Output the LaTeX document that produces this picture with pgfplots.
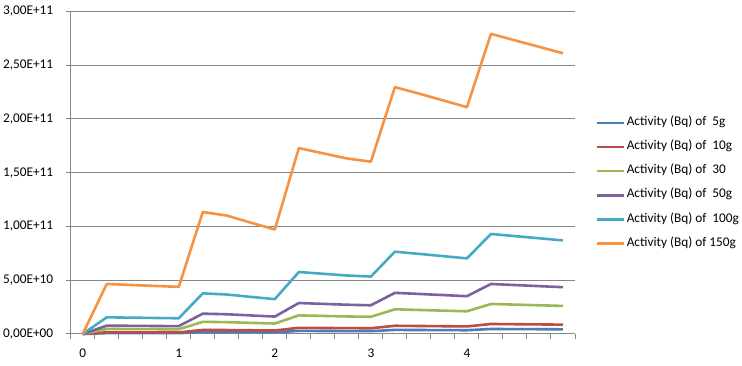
\documentclass[border=0pt]{standalone}
\usepackage{fontspec}
\setmainfont{Carlito}
\usepackage{pgfplots}
\pgfplotsset{compat=1.18}
\usepackage{pgfplotstable}
\definecolor{c5}{HTML}{4A7EBB}
\definecolor{c10}{HTML}{BE4B48}
\definecolor{c30}{HTML}{98B954}
\definecolor{c50}{HTML}{7D60A0}
\definecolor{c100}{HTML}{46AAC5}
\definecolor{c150}{HTML}{F69240}
\definecolor{axgray}{HTML}{868686}

\pgfplotstableread{
x  a5      a10     a30      a50      a100    a150
0  0       0       0        0        0       0
1  0.80e9  1.55e9  4.65e9   7.75e9   15.5e9  46.5e9
2  0.80e9  1.52e9  4.56e9   7.60e9   15.2e9  45.6e9
3  0.75e9  1.49e9  4.47e9   7.45e9   14.9e9  44.7e9
4  0.75e9  1.46e9  4.38e9   7.30e9   14.6e9  43.8e9
5  1.90e9  3.78e9  11.3e9   18.9e9   37.8e9  113.4e9
6  1.85e9  3.67e9  11.0e9   18.35e9  36.7e9  110.1e9
7  1.75e9  3.45e9  10.35e9  17.25e9  34.5e9  103.5e9
8  1.60e9  3.24e9  9.72e9   16.2e9   32.4e9  97.2e9
9  2.90e9  5.76e9  17.3e9   28.8e9   57.6e9  172.8e9
10 2.80e9  5.60e9  16.8e9   28.0e9   56.0e9  168.0e9
11 2.70e9  5.44e9  16.3e9   27.2e9   54.4e9  163.2e9
12 2.65e9  5.34e9  16.0e9   26.7e9   53.4e9  160.2e9
13 3.80e9  7.65e9  22.95e9  38.25e9  76.5e9  229.5e9
14 3.70e9  7.45e9  22.35e9  37.25e9  74.5e9  223.5e9
15 3.60e9  7.24e9  21.7e9   36.2e9   72.4e9  217.2e9
16 3.50e9  7.03e9  21.1e9   35.15e9  70.3e9  210.9e9
17 4.65e9  9.30e9  27.9e9   46.5e9   93.0e9  279.0e9
18 4.55e9  9.10e9  27.3e9   45.5e9   91.0e9  273.0e9
19 4.45e9  8.90e9  26.7e9   44.5e9   89.0e9  267.0e9
20 4.35e9  8.70e9  26.1e9   43.5e9   87.0e9  261.0e9
}\data

\begin{document}
\begin{tikzpicture}[x=1pt,y=1pt]
\path[use as bounding box] (-70.7,-32) rectangle (671.3,334);
\begin{axis}[
  at={(0,0)}, anchor=south west, scale only axis,
  width=504.3pt, height=322.7pt,
  xmin=-0.5, xmax=20.5, ymin=0, ymax=3e11,
  axis x line*=bottom, axis y line*=left,
  axis line style={axgray, line width=1pt, -},
  xtick={-0.5,0.5,...,20.5}, xticklabels={},
  extra x ticks={0,4,8,12,16}, extra x tick labels={0,1,2,3,4},
  extra x tick style={major tick length=0pt, grid=none,
    xticklabel style={yshift=-11pt}},
  ytick={0,5e10,1e11,1.5e11,2e11,2.5e11,3e11},
  yticklabels={{0,00E+00},{5,00E+10},{1,00E+11},{1,50E+11},{2,00E+11},{2,50E+11},{3,00E+11}},
  yticklabel style={xshift=-9pt},
  scaled y ticks=false,
  ymajorgrids, grid style={axgray, line width=1pt},
  tick align=outside, major tick length=5pt,
  tick style={axgray, line width=1pt},
  font=\fontsize{13.3}{16}\selectfont,
  clip=false,
  legend cell align=left,
  legend image code/.code={\draw[#1, line width=2.6pt] (0pt,0pt) -- (27pt,0pt);},
  legend style={draw=none, fill=none, at={(1.0416,0.671)}, anchor=north west,
    inner sep=0pt, row sep=13.6pt,
    nodes={inner xsep=1pt, inner ysep=0pt, text height=8pt, text depth=2.5pt},
    font=\fontsize{13.3}{16}\selectfont},
]
\addplot[c5, line width=2.6pt, line join=round]   table[x=x,y=a5]{\data};
\addplot[c10, line width=2.6pt, line join=round]  table[x=x,y=a10]{\data};
\addplot[c30, line width=2.6pt, line join=round]  table[x=x,y=a30]{\data};
\addplot[c50, line width=2.6pt, line join=round]  table[x=x,y=a50]{\data};
\addplot[c100, line width=2.6pt, line join=round] table[x=x,y=a100]{\data};
\addplot[c150, line width=2.6pt, line join=round] table[x=x,y=a150]{\data};
\legend{Activity (Bq) of\ \ 5g, Activity (Bq) of\ \ 10g, Activity (Bq) of\ \ 30, Activity (Bq) of\ \ 50g, Activity (Bq) of\ \ 100g, Activity (Bq) of 150g}
\end{axis}
\end{tikzpicture}
\end{document}
